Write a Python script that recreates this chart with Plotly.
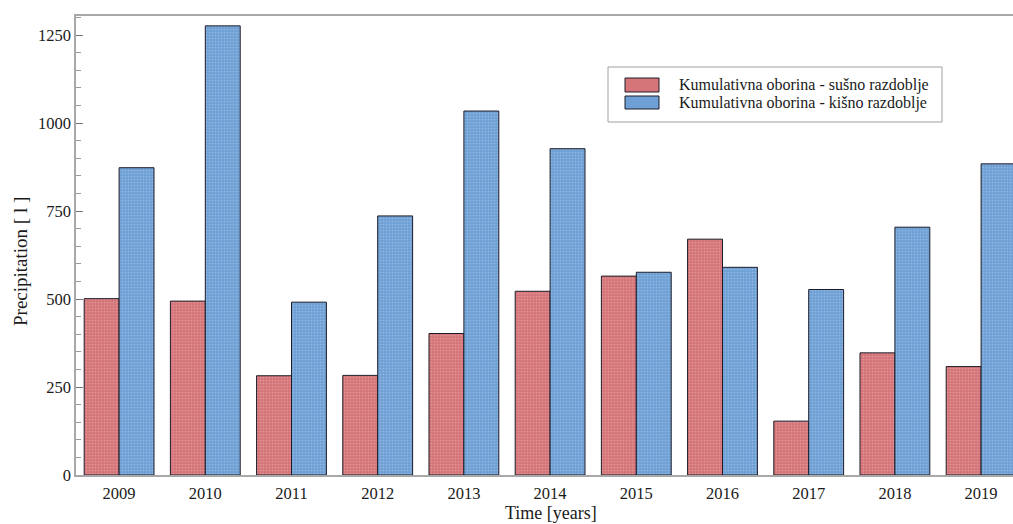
import plotly.graph_objects as go

# Cumulative precipitation per year, dry vs. wet season
years = ["2009", "2010", "2011", "2012", "2013", "2014",
         "2015", "2016", "2017", "2018", "2019"]
dry_season = [501, 494, 282, 283, 402, 522, 565, 670, 153, 347, 308]
wet_season = [873, 1276, 491, 736, 1034, 927, 576, 590, 527, 704, 884]

name_dry = "Kumulativna oborina - sušno razdoblje"
name_wet = "Kumulativna oborina - kišno razdoblje"

y_ticks = [0, 250, 500, 750, 1000, 1250]

RED = "#d57579"
BLUE = "#6fa0d5"
FONT = "Liberation Serif"

W, H = 1013, 524
L, R, T, B = 76, 0, 16, 49
plot_w = W - L - R
plot_h = H - T - B
slot_px = 86.2  # width of one year slot in pixels

fig = go.Figure()
for name, vals, col in [(name_dry, dry_season, RED), (name_wet, wet_season, BLUE)]:
    fig.add_trace(go.Bar(
        x=years, y=vals, name=name,
        marker=dict(color=col, line=dict(color="#1c1c28", width=1),
                    pattern=dict(shape=".", size=3, solidity=0.25,
                                 fgcolor="#ffffff", fgopacity=0.25)),
        showlegend=False,
    ))

fig.update_layout(
    width=W, height=H,
    margin=dict(l=L, r=R, t=T, b=B),
    paper_bgcolor="white", plot_bgcolor="white",
    barmode="group", bargap=0.19, bargroupgap=0,
    font=dict(family=FONT, size=16.5, color="#1a1a1a"),
)

fig.update_xaxes(
    range=[-0.5, -0.5 + plot_w / slot_px],
    showline=True, linecolor="#a8a8a8", linewidth=1.5, mirror=True,
    ticks="", showgrid=False, tickfont=dict(size=16.5), ticklabelstandoff=2,
)
fig.update_yaxes(
    range=[0, 1304],
    tickvals=y_ticks, ticktext=[str(v) for v in y_ticks],
    showline=True, linecolor="#a8a8a8", linewidth=1.5, mirror=False,
    ticks="inside", ticklen=7, tickcolor="#777777", tickwidth=1,
    minor=dict(dtick=50, ticks="inside", ticklen=5, tickcolor="#999999", tickwidth=1),
    showgrid=False, zeroline=False, tickfont=dict(size=16.5),
)

# Axis titles
fig.add_annotation(text="Time [years]", xref="paper", yref="paper",
                   x=(551 - L) / plot_w, y=(H - 513 - B) / plot_h,
                   showarrow=False, font=dict(size=18), xanchor="center", yanchor="middle")
fig.add_annotation(text="Precipitation [ l ]", xref="paper", yref="paper",
                   x=(20 - L) / plot_w, y=(H - 262 - B) / plot_h, textangle=-90,
                   showarrow=False, font=dict(size=19), xanchor="center", yanchor="middle")

# Legend box with swatches
def px_x(px):
    return (px - L) / plot_w

def px_y(py):
    return (H - py - B) / plot_h

fig.add_shape(type="rect", xref="paper", yref="paper",
              x0=px_x(608), x1=px_x(942), y0=px_y(122), y1=px_y(67),
              line=dict(color="#a0a0a0", width=1), fillcolor="white", layer="above")
for (top, bot, col, name) in [(78, 92, RED, name_dry), (96, 109, BLUE, name_wet)]:
    fig.add_shape(type="rect", xref="paper", yref="paper",
                  x0=px_x(625), x1=px_x(659), y0=px_y(bot), y1=px_y(top),
                  line=dict(color="#1c1c28", width=1), fillcolor=col, layer="above")
    fig.add_annotation(text=name, xref="paper", yref="paper",
                       x=px_x(677), y=px_y((top + bot) / 2), xanchor="left", yanchor="middle",
                       showarrow=False, font=dict(size=16))

fig.write_html("out.html")
